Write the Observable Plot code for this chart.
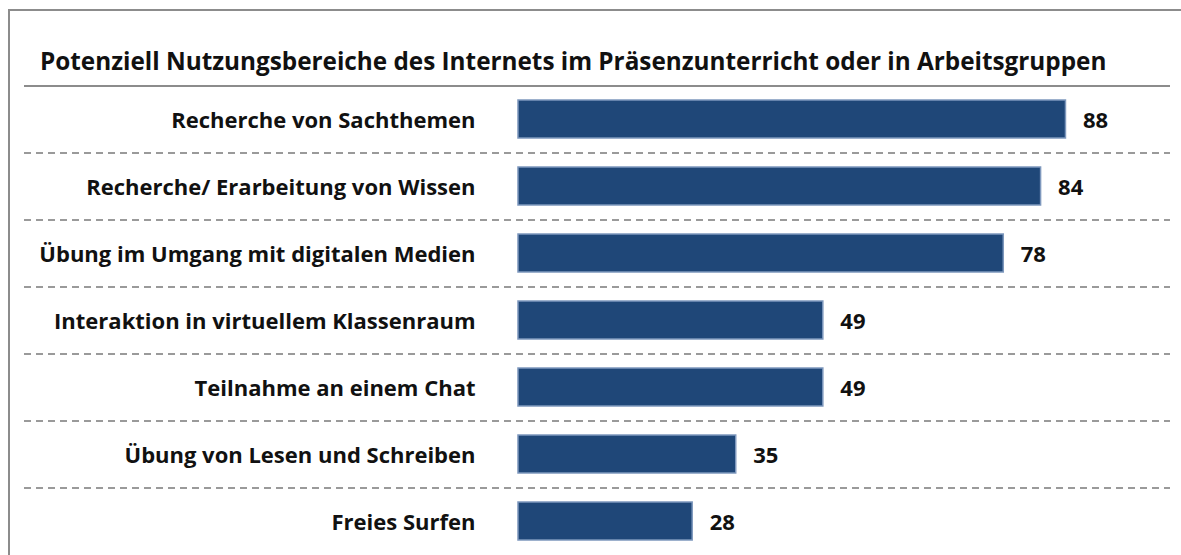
<!DOCTYPE html>
<html>
<head>
<meta charset="utf-8">
<script src="https://cdn.jsdelivr.net/npm/d3@7"></script>
<script src="https://cdn.jsdelivr.net/npm/@observablehq/plot@0.6"></script>
<style>
  html, body { margin: 0; padding: 0; background: #fff; overflow: hidden; }
  #wrap { position: relative; width: 1181px; height: 555px; overflow: hidden; font-family: "Open Sans", Lato, sans-serif; }
  #chart { position: absolute; left: 0; top: 0; z-index: 0; }
  #topline { position: absolute; left: 8px; top: 9px; width: 1173px; height: 2px; background: #8c8c8c; z-index: 2; }
  #leftline { position: absolute; left: 8px; top: 9px; width: 2px; height: 546px; background: #8c8c8c; z-index: 2; }
  #title { position: absolute; left: 40px; top: 48px; font-size: 24.3px; line-height: 25px;
           font-weight: bold; color: #111; white-space: nowrap; z-index: 2; }
</style>
</head>
<body>
<div id="wrap">
  <div id="chart"></div>
  <div id="topline"></div>
  <div id="leftline"></div>
  <div id="title">Potenziell Nutzungsbereiche des Internets im Präsenzunterricht oder in Arbeitsgruppen</div>
</div>
<script>
const categories = [
  "Recherche von Sachthemen",
  "Recherche/ Erarbeitung von Wissen",
  "Übung im Umgang mit digitalen Medien",
  "Interaktion in virtuellem Klassenraum",
  "Teilnahme an einem Chat",
  "Übung von Lesen und Schreiben",
  "Freies Surfen"
];
const values = [88, 84, 78, 49, 49, 35, 28];

const data = categories.map((c, i) => ({category: c, value: values[i]}));

const W = 1181, H = 555, MT = 85, MB = 0;
const step = (H - MT - MB) / categories.length;

const chart = Plot.plot({
  width: W,
  height: H,
  marginTop: MT,
  marginBottom: MB,
  marginLeft: 24,
  marginRight: 11,
  x: {domain: [-79.4, 104.8], axis: null},
  y: {domain: categories, axis: null, paddingInner: 0.43, paddingOuter: 0.215},
  style: {fontFamily: "'Open Sans', Lato, sans-serif", background: "#fff"},
  marks: [
    Plot.ruleY([categories[0]], {dy: -step / 2, stroke: "#8c8c8c", strokeWidth: 2}),
    Plot.ruleY(categories.slice(0, -1), {dy: step / 2, stroke: "#9a9a9a", strokeWidth: 2, strokeDasharray: "7,5"}),
    Plot.barX(data, {x: "value", y: "category", fill: "#1f4778", stroke: "#7e98bd", strokeWidth: 1.5}),
    Plot.text(data, {x: 0, y: "category", text: "category", dx: -43, dy: 1, textAnchor: "end",
                     fontSize: 22, fontWeight: "bold", fill: "#111"}),
    Plot.text(data, {x: "value", y: "category", text: d => String(d.value), dx: 17, textAnchor: "start",
                     fontSize: 22, fontWeight: "bold", fill: "#111", dy: 1})
  ]
});
document.getElementById("chart").appendChild(chart);
</script>
</body>
</html>
